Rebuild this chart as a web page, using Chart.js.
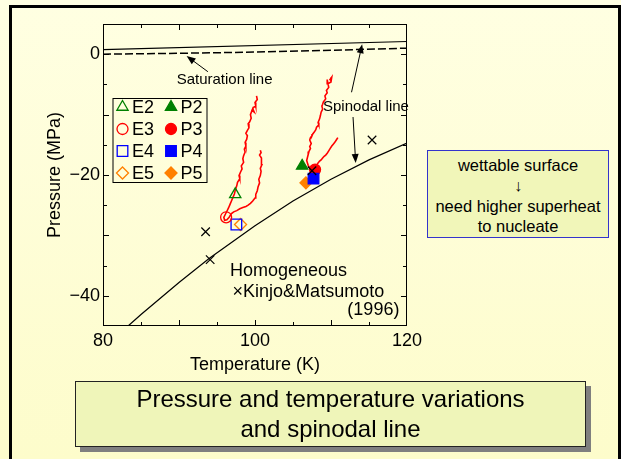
<!DOCTYPE html>
<html>
<head>
<meta charset="utf-8">
<script src="https://cdn.jsdelivr.net/npm/chart.js@4.4.1/dist/chart.umd.min.js"></script>
<style>
  body { margin: 0; }
  #slide {
    position: relative; width: 621px; height: 459px; overflow: hidden;
    background: linear-gradient(#ffffe2, #fdfccb);
    font-family: "Liberation Sans", Arial, sans-serif; color: #000;
  }
  #frame {
    position: absolute; left: 9px; top: 5px; width: 612px; height: 470px;
    border: 3px solid #000; box-sizing: border-box;
  }
  #plot { position: absolute; left: 0; top: 0; }
  #note {
    position: absolute; left: 427px; top: 150px; width: 182px; height: 88px;
    box-sizing: border-box; border: 1px solid #3333cc; background: #f1f6b9;
    text-align: center; font-size: 16.5px; line-height: 20.3px; padding-top: 4px;
  }
  #caption {
    position: absolute; left: 75px; top: 381px; width: 511px; height: 66px;
    box-sizing: border-box; border: 1px solid #222; background: #eff5b9;
    box-shadow: 5px 5px 0 #7f7f7f;
    text-align: center; font-size: 24px; line-height: 30px; padding-top: 2px;
  }
</style>
</head>
<body>
<div id="slide">
  <div id="frame"></div>
  <canvas id="plot" width="621" height="459"></canvas>
  <div id="note">wettable surface<br>↓<br>need higher superheat<br>to nucleate</div>
  <div id="caption">Pressure and temperature variations<br>and spinodal line</div>
</div>
<script>
// temperature (K) / pressure (MPa)
const satT = [80, 90, 100, 110, 120];
const satP = [0.0, 0.15, 0.35, 0.65, 1.0];

const spinHighT = [80, 120];
const spinHighP = [0.75, 2.1];

const spinLowT = [83.3, 85, 90, 94, 100, 105, 110, 115, 120];
const spinLowP = [-45, -43.1, -37.8, -33.8, -28.4, -24.3, -20.7, -17.5, -14.7];

// homogeneous nucleation, Kinjo & Matsumoto (1996)
const kinjoT = [93.5, 94.1, 107.5, 115.4];
const kinjoP = [-29.4, -34.0, -19.3, -14.2];

// measured traces
const eTraceT = [100.2, 100.3, 100.0, 100.1, 99.8, 99.6, 99.9, 99.7, 99.4, 99.5, 99.3, 99.1, 99.2, 99.0, 98.8,
  99.0, 98.9, 98.7, 98.8, 98.6, 98.7, 98.5, 98.4, 98.5, 98.2, 98.3, 98.1, 97.9, 98.0, 97.7, 97.6, 97.4, 97.3,
  97.1, 96.9, 96.7, 96.5, 96.3, 96.1, 95.9, 96.0, 96.3, 96.6, 96.9, 97.2, 97.6, 98.0, 98.4, 98.8, 99.1, 99.4,
  99.7, 100.0, 100.1, 100.3, 100.4, 100.6, 100.5, 100.7, 100.8, 100.7, 100.9, 100.8, 100.9, 100.6, 100.8, 100.7];
const eTraceP = [-6.9, -7.5, -8.0, -8.6, -8.8, -9.3, -9.6, -9.0, -10.0, -10.6, -11.2, -11.5, -12.2, -12.6, -13.1,
  -13.5, -14.1, -14.6, -15.2, -15.7, -16.2, -16.8, -17.3, -17.9, -18.5, -19.0, -19.5, -20.1, -20.6, -21.2, -21.8,
  -22.5, -23.1, -23.7, -24.3, -24.9, -25.5, -26.0, -26.5, -27.0, -27.5, -27.4, -27.0, -26.4, -26.1, -25.9, -25.6,
  -25.4, -25.2, -25.0, -24.7, -24.3, -23.8, -23.2, -22.6, -22.0, -21.3, -20.7, -20.1, -19.4, -18.9, -18.3, -17.7,
  -17.2, -16.7, -16.3, -15.9];

const pTraceT = [109.8, 110.1, 110.0, 109.6, 109.5, 109.7, 109.4, 109.5, 109.2, 109.3, 109.0, 108.9, 108.8, 108.9,
  108.7, 108.6, 108.5, 108.3, 108.4, 108.1, 108.0, 107.8, 107.6, 107.5, 107.3, 107.2, 107.4, 107.2, 107.3, 107.1,
  107.0, 106.9, 106.8, 106.9, 107.0, 107.2, 107.4, 107.7, 107.9, 108.1, 108.3, 108.5, 108.7, 108.9, 109.1, 109.3,
  109.5, 109.7, 109.9, 110.1, 110.3, 110.5, 110.7, 110.9];
const pTraceP = [-4.3, -3.8, -4.6, -4.9, -4.2, -5.5, -6.0, -6.4, -6.9, -7.4, -7.9, -8.3, -8.6, -9.1, -9.6, -10.2,
  -10.7, -11.3, -11.7, -12.1, -12.5, -12.9, -13.2, -13.5, -13.8, -14.2, -14.8, -15.3, -15.6, -16.1, -16.6, -17.1,
  -17.6, -18.0, -18.4, -18.8, -19.2, -18.9, -18.6, -18.4, -18.0, -17.7, -17.5, -17.2, -16.9, -16.7, -16.4, -16.0,
  -15.6, -15.2, -14.9, -14.6, -14.2, -13.8];

// nucleation points
const pointNames = ['E2', 'E3', 'E4', 'E5', 'P2', 'P3', 'P4', 'P5'];
const pointT = [97.4, 96.2, 97.55, 98.1, 106.2, 107.9, 107.7, 106.7];
const pointP = [-23.2, -27.0, -28.2, -28.2, -18.5, -19.1, -20.6, -21.3];

const xTickLabels = [80, 100, 120];
const yTickLabels = [0, -20, -40];

// marker look per point: shape, colour, filled, radius
const markerLook = {
  E2: ['triangle', '#008000', false, 6.5], P2: ['triangle', '#008000', true, 6.5],
  E3: ['circle', '#ff0000', false, 5.5],   P3: ['circle', '#ff0000', true, 5.5],
  E4: ['rect', '#0000ff', false, 7.5],     P4: ['rect', '#0000ff', true, 7.5],
  E5: ['rectRot', '#ff8000', false, 6],    P5: ['rectRot', '#ff8000', true, 6]
};

const FONT = '"Liberation Sans", Arial, sans-serif';
const zip = (xs, ys) => xs.map((v, i) => ({ x: v, y: ys[i] }));
const minus = v => (v < 0 ? '\u2212' + Math.abs(v) : String(v));

function lineSet(xs, ys, opts) {
  return Object.assign({
    data: zip(xs, ys), showLine: true, pointRadius: 0, borderColor: '#000',
    borderWidth: 1.2, fill: false, order: 10
  }, opts);
}

const datasets = [
  lineSet(satT, satP, { borderDash: [8, 3], borderWidth: 1.5 }),
  lineSet(spinHighT, spinHighP, {}),
  lineSet(spinLowT, spinLowP, {}),
  lineSet(eTraceT, eTraceP, { borderColor: '#ff0000', borderWidth: 1.6, order: 9 }),
  lineSet(pTraceT, pTraceP, { borderColor: '#ff0000', borderWidth: 1.6, order: 9 })
];

pointNames.forEach((name, i) => {
  const [shape, colour, filled, r] = markerLook[name];
  datasets.push({
    label: name,
    data: [{ x: pointT[i], y: pointP[i] }],
    pointStyle: shape, pointRadius: r,
    borderColor: colour, backgroundColor: filled ? colour : 'rgba(0,0,0,0)',
    borderWidth: 1.3, order: name === 'P4' ? 4 : 5
  });
});

datasets.push({
  label: 'Kinjo&Matsumoto',
  data: zip(kinjoT, kinjoP),
  pointStyle: 'crossRot', pointRadius: 6, borderColor: '#000', borderWidth: 1.2, order: 1
});

// text labels and arrows placed in data units
const lineNotes = [
  { text: 'Saturation line', t: 96.0, p: -4.3 },
  { text: 'Spinodal line', t: 114.6, p: -8.7 }
];
const arrows = [
  { from: [93.8, -2.9], to: [91.0, -0.3] },
  { from: [112.7, -6.3], to: [114.1, 1.65] },
  { from: [112.9, -10.4], to: [113.25, -18.0] }
];

function drawMarker(ctx, name, x, y) {
  const [shape, colour, filled, r] = markerLook[name];
  ctx.fillStyle = filled ? colour : 'rgba(0,0,0,0)';
  ctx.strokeStyle = colour;
  ctx.lineWidth = 1.3;
  Chart.helpers.drawPoint(ctx, { pointStyle: shape, radius: r, borderWidth: 1.3, rotation: 0 }, x, y);
}

const decorations = {
  id: 'decorations',
  afterDatasetsDraw(chart) {
    const { ctx, chartArea: a, scales: { x, y } } = chart;
    ctx.save();

    // frame and inward ticks
    ctx.strokeStyle = '#000';
    ctx.lineWidth = 1;
    ctx.strokeRect(a.left + 0.5, a.top + 0.5, a.right - a.left - 1, a.bottom - a.top - 1);
    ctx.beginPath();
    x.ticks.forEach(tk => {
      if (tk.value <= x.min || tk.value >= x.max) return;
      const px = Math.round(x.getPixelForValue(tk.value)) + 0.5;
      const len = tk.value % 10 === 0 ? 6 : 4;
      ctx.moveTo(px, a.bottom); ctx.lineTo(px, a.bottom - len);
      ctx.moveTo(px, a.top); ctx.lineTo(px, a.top + len);
    });
    y.ticks.forEach(tk => {
      if (tk.value <= y.min || tk.value >= y.max) return;
      const py = Math.round(y.getPixelForValue(tk.value)) + 0.5;
      const len = tk.value % 10 === 0 ? 6 : 4;
      ctx.moveTo(a.left, py); ctx.lineTo(a.left + len, py);
      ctx.moveTo(a.right, py); ctx.lineTo(a.right - len, py);
    });
    ctx.stroke();

    // arrows
    ctx.fillStyle = '#000';
    ctx.lineWidth = 1;
    arrows.forEach(ar => {
      const x0 = x.getPixelForValue(ar.from[0]), y0 = y.getPixelForValue(ar.from[1]);
      const x1 = x.getPixelForValue(ar.to[0]), y1 = y.getPixelForValue(ar.to[1]);
      const ang = Math.atan2(y1 - y0, x1 - x0);
      ctx.beginPath();
      ctx.moveTo(x0, y0);
      ctx.lineTo(x1 - 7 * Math.cos(ang), y1 - 7 * Math.sin(ang));
      ctx.stroke();
      ctx.beginPath();
      ctx.moveTo(x1, y1);
      ctx.lineTo(x1 - 9 * Math.cos(ang) + 3.5 * Math.sin(ang), y1 - 9 * Math.sin(ang) - 3.5 * Math.cos(ang));
      ctx.lineTo(x1 - 9 * Math.cos(ang) - 3.5 * Math.sin(ang), y1 - 9 * Math.sin(ang) + 3.5 * Math.cos(ang));
      ctx.closePath();
      ctx.fill();
    });

    ctx.textBaseline = 'middle';
    ctx.font = '15px ' + FONT;
    ctx.textAlign = 'center';
    lineNotes.forEach(n => ctx.fillText(n.text, x.getPixelForValue(n.t), y.getPixelForValue(n.p)));

    // homogeneous nucleation note
    ctx.font = '18px ' + FONT;
    ctx.textAlign = 'left';
    ctx.fillText('Homogeneous', x.getPixelForValue(96.7), y.getPixelForValue(-35.9));
    ctx.fillText('\u00d7Kinjo&Matsumoto', x.getPixelForValue(97.05), y.getPixelForValue(-39.4));
    ctx.textAlign = 'right';
    ctx.fillText('(1996)', x.getPixelForValue(119.0), y.getPixelForValue(-42.3));

    // legend box
    const bx = a.left + 9.5, by = a.top + 74;
    ctx.strokeStyle = '#000';
    ctx.lineWidth = 1;
    ctx.strokeRect(bx + 0.5, by + 0.5, 94, 84);
    const rows = [['E2', 'P2'], ['E3', 'P3'], ['E4', 'P4'], ['E5', 'P5']];
    rows.forEach((row, i) => {
      const ry = by + 9 + i * 22;
      row.forEach((name, j) => {
        const mx = bx + 10 + j * 48.5;
        ctx.save();
        drawMarker(ctx, name, mx, ry);
        ctx.restore();
        ctx.fillStyle = '#000';
        ctx.textAlign = 'left';
        ctx.fillText(name, mx + 9.5, ry + 1);
      });
    });

    ctx.restore();
  }
};

new Chart(document.getElementById('plot'), {
  type: 'scatter',
  data: { datasets: datasets },
  options: {
    responsive: false,
    animation: false,
    layout: { padding: { left: 40, top: 24, right: 214, bottom: 79 } },
    plugins: { legend: { display: false }, tooltip: { enabled: false } },
    scales: {
      x: {
        min: 80, max: 120,
        grid: { display: false, drawTicks: false },
        border: { display: false },
        afterFit: s => { s.height = 54; },
        ticks: {
          stepSize: 5, padding: 4, color: '#000', maxRotation: 0, autoSkip: false,
          font: { size: 18, family: FONT },
          callback: v => (xTickLabels.includes(v) ? String(v) : '')
        },
        title: { display: true, text: 'Temperature (K)', color: '#000', font: { size: 18, family: FONT } }
      },
      y: {
        min: -45, max: 5,
        grid: { display: false, drawTicks: false },
        border: { display: false },
        afterFit: s => { s.width = 63; },
        ticks: {
          stepSize: 5, padding: 3, color: '#000', autoSkip: false,
          font: { size: 18, family: FONT },
          callback: v => (yTickLabels.includes(v) ? minus(v) : '')
        },
        title: { display: true, text: 'Pressure (MPa)', color: '#000', font: { size: 18, family: FONT } }
      }
    }
  },
  plugins: [decorations]
});
</script>
</body>
</html>
